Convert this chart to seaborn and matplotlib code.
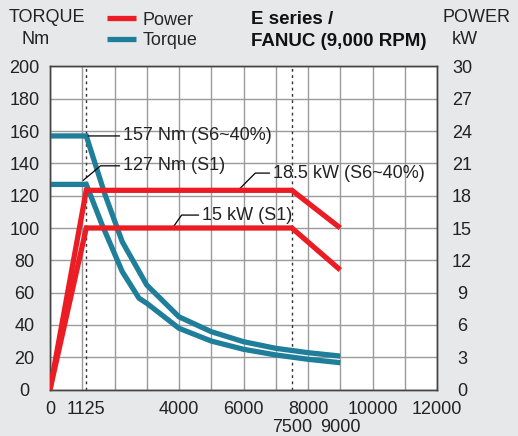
import matplotlib
matplotlib.use('Agg')
import matplotlib.pyplot as plt
import seaborn as sns
import pandas as pd

# torque curves (Nm) vs rpm
rpm_s6 = [0, 1125, 1700, 2240, 3000, 4000, 5000, 6000, 7000, 8000, 9000]
torque_s6 = [157, 157, 121, 91.5, 64.7, 45, 35.8, 29.6, 25.5, 22.8, 20.7]
rpm_s1 = [0, 1125, 1615, 2240, 2760, 3000, 4000, 5000, 6000, 7000, 8000, 9000]
torque_s1 = [127, 127, 102, 73, 56.5, 53.4, 37.9, 30, 24.9, 21.4, 18.7, 16.6]

# power curves (kW) vs rpm
rpm_pw = [0, 1125, 7500, 9000]
power_s6 = [0, 18.5, 18.5, 15.0]
power_s1 = [0, 15.0, 15.0, 11.1]

x_labels_top = [0, 1125, 4000, 6000, 8000, 10000, 12000]
x_labels_low = [7500, 9000]
base_speed = 1125
max_const_speed = 7500

RED = '#ec1c24'
TEAL = '#1f7f9b'
BG = '#e7e8ea'
TXT = '#222222'

sns.set_style('white')
plt.rcParams['font.family'] = ['Liberation Sans', 'DejaVu Sans']

fig = plt.figure(figsize=(5.18, 4.36), dpi=100, facecolor=BG)
ax = fig.add_axes([50 / 518, 46.5 / 436, 387 / 518, 323 / 436])
ax.set_facecolor('white')

# grid drawn by hand so the tick labels can sit anywhere
for gx in range(0, 12001, 1000):
    ax.axvline(gx, color='#9a9a9a', lw=1.0, zorder=0)
for gy in range(0, 201, 20):
    ax.axhline(gy, color='#9a9a9a', lw=1.0, zorder=0)
for vx in [base_speed, max_const_speed]:
    ax.axvline(vx, color='#333333', lw=1.0, ls=(0, (2, 2.5)), zorder=1)

line_kw = dict(lw=3.8, solid_capstyle='butt', solid_joinstyle='miter')

df_s6 = pd.DataFrame({'rpm': rpm_s6, 'torque': torque_s6})
df_s1 = pd.DataFrame({'rpm': rpm_s1, 'torque': torque_s1})
sns.lineplot(data=df_s6, x='rpm', y='torque', ax=ax, color=TEAL,
             label='Torque', zorder=3, **line_kw)
sns.lineplot(data=df_s1, x='rpm', y='torque', ax=ax, color=TEAL,
             zorder=3, **line_kw)

ax.set_xlim(0, 12000)
ax.set_ylim(0, 200)
ax.set_xlabel('')
ax.set_ylabel('')

ax2 = ax.twinx()
df_p6 = pd.DataFrame({'rpm': rpm_pw, 'power': power_s6})
df_p1 = pd.DataFrame({'rpm': rpm_pw, 'power': power_s1})
sns.lineplot(data=df_p6, x='rpm', y='power', ax=ax2, color=RED,
             label='Power', zorder=4, **line_kw)
sns.lineplot(data=df_p1, x='rpm', y='power', ax=ax2, color=RED,
             zorder=4, **line_kw)
ax2.set_ylim(0, 30)
ax2.set_ylabel('')

# ticks
ax.set_yticks(range(0, 201, 20))
ax.set_yticklabels([str(v) for v in range(0, 201, 20)], ha='center')
ax.tick_params(axis='y', length=0, pad=18.5, labelsize=13, colors=TXT)
ax2.set_yticks(range(0, 31, 3))
ax2.set_yticklabels([str(v) for v in range(0, 31, 3)], ha='center')
ax2.tick_params(axis='y', length=0, pad=18, labelsize=13, colors=TXT)

ax.set_xticks(x_labels_top)
ax.set_xticklabels([str(v) for v in x_labels_top])
ax.set_xticks(x_labels_low, minor=True)
ax.set_xticklabels([str(v) for v in x_labels_low], minor=True)
ax.tick_params(axis='x', which='major', length=0, pad=8, labelsize=13, colors=TXT)
ax.tick_params(axis='x', which='minor', length=0, pad=21, labelsize=13, colors=TXT)

for a in (ax, ax2):
    for s in a.spines.values():
        s.set_color('#444444')
        s.set_linewidth(1.0)

# leader annotations
lead = dict(arrowstyle='-', color='black', lw=0.9, shrinkA=0, shrinkB=0)
ax.annotate('157 Nm (S6~40%)', xy=(1180, 157), xytext=(2260, 157),
            va='center', ha='left', fontsize=13, color=TXT,
            arrowprops=dict(lead, relpos=(0, 0.5)), zorder=5)
ax.annotate('127 Nm (S1)', xy=(1030, 129.5), xytext=(2260, 138.5),
            va='center', ha='left', fontsize=13, color=TXT,
            arrowprops=dict(lead, relpos=(0, 0.5),
                            connectionstyle='angle,angleA=0,angleB=40,rad=0'), zorder=5)
ax.annotate('18.5 kW (S6~40%)', xy=(5830, 123.3), xytext=(6910, 134),
            va='center', ha='left', fontsize=13, color=TXT,
            arrowprops=dict(lead, relpos=(0, 0.5),
                            connectionstyle='angle,angleA=0,angleB=45,rad=0'), zorder=5)
ax.annotate('15 kW (S1)', xy=(3800, 100), xytext=(4710, 108),
            va='center', ha='left', fontsize=13, color=TXT,
            arrowprops=dict(lead, relpos=(0, 0.5),
                            connectionstyle='angle,angleA=0,angleB=55,rad=0'), zorder=5)

# legend
h1, l1 = ax2.get_legend_handles_labels()
h2, l2 = ax.get_legend_handles_labels()
ax.get_legend().remove()
ax2.get_legend().remove()
fig.legend(h1 + h2, l1 + l2, loc='upper left', bbox_to_anchor=(103 / 518, 1 - 8 / 436),
           frameon=False, fontsize=13, handlelength=1.65, handletextpad=0.35,
           labelspacing=0.2, borderaxespad=0, borderpad=0.2)

# headers
fig.text(47 / 518, 1 - 18 / 436, 'TORQUE', ha='center', va='center', fontsize=13, color=TXT)
fig.text(36 / 518, 1 - 39 / 436, 'Nm', ha='center', va='center', fontsize=13, color=TXT)
fig.text(477 / 518, 1 - 18 / 436, 'POWER', ha='center', va='center', fontsize=13, color=TXT)
fig.text(465 / 518, 1 - 39 / 436, 'kW', ha='center', va='center', fontsize=13, color=TXT)
fig.text(251 / 518, 1 - 19 / 436, 'E series /', ha='left', va='center', fontsize=13.5,
         fontweight='bold', color='#111111')
fig.text(251 / 518, 1 - 42 / 436, 'FANUC (9,000 RPM)', ha='left', va='center', fontsize=13.5,
         fontweight='bold', color='#111111')

fig.savefig('out.png', dpi=100, facecolor=BG)
